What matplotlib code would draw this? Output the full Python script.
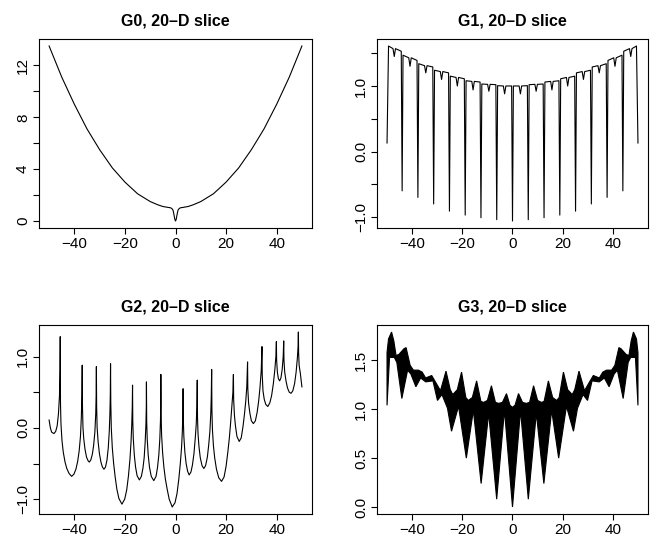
import matplotlib
matplotlib.use("Agg")
import matplotlib.pyplot as plt
import numpy as np

plt.rcParams['font.family'] = ['Liberation Sans', 'DejaVu Sans']

# ---- G0: bowl with a narrow notch at the origin
g0_x = [-50, -45, -40, -35, -30, -25, -20, -15, -10, -7, -5, -3, -2, -1.5, -1, -0.75, -0.5, -0.25, 0,
        0.25, 0.5, 0.75, 1, 1.5, 2, 3, 5, 7, 10, 15, 20, 25, 30, 35, 40, 45, 50]
g0_y = [13.5, 11.1, 9.0, 7.1, 5.5, 4.1, 3.0, 2.1, 1.5, 1.25, 1.12, 1.05, 1.02, 0.97, 0.84, 0.63, 0.37, 0.11, 0.0,
        0.11, 0.37, 0.63, 0.84, 0.97, 1.02, 1.05, 1.12, 1.25, 1.5, 2.1, 3.0, 4.1, 5.5, 7.1, 9.0, 11.1, 13.5]

# ---- G1: periodic deep dips on a rising envelope
g1_end_x = [-50, 50]
g1_end_y = [0.13, 0.13]
g1_dip_x = [-43.98, -37.70, -31.42, -25.13, -18.85, -12.57, -6.28, 0.00,
            6.28, 12.57, 18.85, 25.13, 31.42, 37.70, 43.98]
g1_dip_y = [-0.60, -0.70, -0.80, -0.91, -0.97, -1.01, -1.04, -1.06,
            -1.04, -1.01, -0.97, -0.91, -0.80, -0.70, -0.60]
g1_notch_x = [-47.12, -40.84, -34.56, -28.27, -21.99, -15.71, -9.42, -3.14,
              3.14, 9.42, 15.71, 21.99, 28.27, 34.56, 40.84, 47.12]
g1_notch_y = [1.45, 1.30, 1.20, 1.10, 1.00, 0.94, 0.92, 0.88,
              0.88, 0.92, 0.94, 1.00, 1.10, 1.20, 1.30, 1.45]
g1_rise_y = [1.61, 1.47, 1.34, 1.24, 1.15, 1.08, 1.03, 1.005,
             1.00, 1.02, 1.06, 1.11, 1.20, 1.29, 1.39, 1.53]
g1_mid_y = [1.57, 1.43, 1.31, 1.22, 1.13, 1.07, 1.025, 1.00,
            1.00, 1.025, 1.07, 1.13, 1.22, 1.31, 1.43, 1.57]
g1_fall_y = [1.53, 1.39, 1.29, 1.20, 1.11, 1.06, 1.02, 1.00,
             1.005, 1.03, 1.08, 1.15, 1.24, 1.34, 1.47, 1.61]

# ---- G2: irregular cusps
g2_x = [-50.0, -49.5, -49.0, -48.1, -47.4, -46.8, -46.3, -45.9, -45.7, -45.6,
        -45.5, -45.3, -44.9, -44.4, -43.7, -43.0, -42.1, -41.1, -40.2, -39.4, -38.7, -38.1, -37.6, -37.25, -37.05, -36.9,
        -36.8, -36.6, -36.3, -35.8, -35.2, -34.6, -34.1, -33.5, -32.9, -32.4, -31.9, -31.55, -31.4, -31.3,
        -31.2, -31.0, -30.6, -30.1, -29.5, -28.9, -28.3, -27.7, -27.1, -26.6, -26.2, -25.95, -25.8, -25.7,
        -25.6, -25.4, -25.0, -24.5, -23.9, -23.2, -22.4, -21.2, -20.1, -19.3, -18.6, -18.0, -17.6, -17.3, -17.1, -17.0,
        -16.9, -16.7, -16.3, -15.8, -15.2, -14.3, -13.5, -12.9, -12.4, -12.0, -11.7, -11.55, -11.5,
        -11.4, -11.2, -10.8, -10.3, -9.6, -8.6, -7.7, -7.1, -6.6, -6.2, -5.95, -5.85, -5.8,
        -5.7, -5.5, -5.1, -4.6, -4.0, -3.3, -2.5, -1.3, -0.2, 0.6, 1.3, 1.9, 2.4, 2.7, 2.9, 3.0,
        3.1, 3.3, 3.7, 4.2, 4.8, 5.4, 6.1, 6.7, 7.3, 7.8, 8.2, 8.45, 8.6,
        8.7, 8.9, 9.3, 9.8, 10.5, 11.2, 11.9, 12.6, 13.1, 13.6, 13.95, 14.15, 14.3,
        14.4, 14.6, 15.0, 15.5, 16.2, 17.1, 18.2, 19.2, 20.0, 20.7, 21.3, 21.8, 22.3, 22.7, 22.9,
        23.0, 23.3, 23.7, 24.3, 25.2, 26.0, 26.7, 27.3, 27.8, 28.2, 28.5,
        28.6, 28.9, 29.4, 30.0, 30.8, 31.6, 32.3, 32.9, 33.4, 33.9, 34.2,
        34.3, 34.6, 35.1, 35.7, 36.5, 37.3, 38.0, 38.7, 39.3, 39.7, 39.9,
        40.0, 40.3, 40.7, 41.2, 41.7, 42.2, 42.6, 42.8,
        42.9, 43.2, 43.7, 44.3, 45.0, 45.7, 46.4, 47.1, 47.7, 48.2, 48.5, 48.6,
        48.7, 48.9, 49.4, 50.0]
g2_y = [0.11, 0.00, -0.06, -0.08, -0.05, 0.03, 0.20, 0.45, 0.80, 1.28,
        0.35, 0.05, -0.18, -0.34, -0.48, -0.57, -0.64, -0.68, -0.65, -0.58, -0.47, -0.32, -0.12, 0.15, 0.45, 0.88,
        0.30, 0.00, -0.15, -0.30, -0.41, -0.46, -0.48, -0.45, -0.37, -0.25, -0.06, 0.20, 0.45, 0.86,
        0.30, 0.00, -0.20, -0.36, -0.48, -0.55, -0.58, -0.55, -0.45, -0.28, -0.05, 0.20, 0.45, 0.90,
        0.35, 0.00, -0.28, -0.49, -0.68, -0.86, -0.99, -1.07, -1.00, -0.87, -0.67, -0.43, -0.20, 0.05, 0.30, 0.60,
        0.10, -0.15, -0.38, -0.55, -0.67, -0.73, -0.68, -0.57, -0.42, -0.20, 0.05, 0.30, 0.645,
        0.10, -0.15, -0.38, -0.55, -0.68, -0.74, -0.68, -0.55, -0.38, -0.15, 0.10, 0.35, 0.75,
        0.20, -0.10, -0.35, -0.55, -0.72, -0.86, -1.00, -1.11, -1.05, -0.92, -0.72, -0.50, -0.27, -0.05, 0.20, 0.55,
        0.10, -0.12, -0.34, -0.50, -0.61, -0.66, -0.62, -0.52, -0.36, -0.15, 0.05, 0.30, 0.67,
        0.15, -0.08, -0.27, -0.42, -0.53, -0.57, -0.53, -0.41, -0.25, -0.05, 0.20, 0.45, 0.82,
        0.25, -0.02, -0.25, -0.42, -0.58, -0.70, -0.75, -0.69, -0.54, -0.34, -0.14, 0.07, 0.30, 0.50, 0.75,
        0.40, 0.18, 0.03, -0.12, -0.19, -0.14, 0.02, 0.20, 0.38, 0.58, 0.925,
        0.55, 0.35, 0.21, 0.10, 0.06, 0.10, 0.22, 0.38, 0.56, 0.80, 1.14,
        0.75, 0.52, 0.40, 0.33, 0.30, 0.35, 0.45, 0.62, 0.82, 1.00, 1.21,
        0.95, 0.78, 0.69, 0.66, 0.70, 0.82, 1.00, 1.22,
        0.95, 0.78, 0.66, 0.56, 0.50, 0.485, 0.52, 0.62, 0.78, 0.98, 1.15, 1.345,
        1.05, 0.88, 0.76, 0.575]

# ---- G3: dense oscillation, drawn as its envelope band
g3_up_x = [-50.0, -49.4, -48.2, -47.3, -46.4, -45.3, -43.2, -42.4, -40.8, -39.5, -37.5, -36.0,
           -34.6, -32.2, -30.5, -28.7, -26.5, -24.8, -23.8, -22.0, -20.3, -18.6, -17.6, -16.0,
           -14.3, -12.6, -11.5, -10.0, -8.4, -6.8, -5.5, -4.0, -2.4, -1.0, 0.0,
           1.0, 2.4, 4.0, 5.5, 6.8, 8.4, 10.0, 11.5, 12.6, 14.3, 16.0, 17.6, 18.6, 20.3,
           22.0, 23.8, 24.8, 26.5, 28.7, 30.5, 32.2, 34.6, 36.0, 37.5, 39.5, 40.8, 42.4,
           43.2, 45.3, 46.4, 47.3, 48.2, 49.4, 50.0]
g3_up_y = [1.58, 1.72, 1.79, 1.70, 1.55, 1.56, 1.62, 1.63, 1.45, 1.40, 1.40, 1.38,
           1.32, 1.345, 1.27, 1.19, 1.39, 1.20, 1.15, 1.20, 1.38, 1.12, 1.09, 1.12,
           1.29, 1.08, 1.07, 1.09, 1.24, 1.07, 1.06, 1.07, 1.16, 1.04, 1.02,
           1.04, 1.16, 1.07, 1.06, 1.07, 1.24, 1.09, 1.07, 1.08, 1.29, 1.12, 1.09, 1.12, 1.38,
           1.20, 1.15, 1.20, 1.39, 1.19, 1.27, 1.345, 1.32, 1.38, 1.40, 1.40, 1.45, 1.63,
           1.62, 1.56, 1.55, 1.70, 1.79, 1.72, 1.58]
g3_lo_x = [-50.0, -49.0, -47.1, -46.1, -44.1, -41.8, -40.5, -38.5, -36.6, -34.6, -31.7, -29.9,
           -28.1, -25.9, -24.3, -21.5, -18.4, -15.6, -12.5, -9.5, -6.3, -3.2, 0.0,
           3.2, 6.3, 9.5, 12.5, 15.6, 18.4, 21.5, 24.3, 25.9, 28.1, 29.9, 31.7, 34.6,
           36.6, 38.5, 40.5, 41.8, 44.1, 46.1, 47.1, 49.0, 50.0]
g3_lo_y = [1.04, 1.53, 1.53, 1.48, 1.11, 1.40, 1.36, 1.23, 1.32, 1.28, 1.29, 1.09,
           1.15, 1.01, 0.775, 1.03, 0.50, 0.99, 0.24, 0.96, 0.08, 0.99, 0.0,
           0.99, 0.08, 0.96, 0.24, 0.99, 0.50, 1.03, 0.775, 1.01, 1.15, 1.09, 1.29, 1.28,
           1.32, 1.23, 1.36, 1.40, 1.11, 1.48, 1.53, 1.53, 1.04]

x_ticks = [-40, -20, 0, 20, 40]


def build_g1():
    xs = [g1_end_x[0], g1_end_x[0] + 0.6]
    ys = [g1_end_y[0], g1_rise_y[0]]
    n = len(g1_notch_x)
    for k in range(n):
        if k > 0:
            xs.append(g1_dip_x[k - 1] + 0.35)
            ys.append(g1_rise_y[k])
        xs += [g1_notch_x[k] - 0.5, g1_notch_x[k], g1_notch_x[k] + 0.5]
        ys += [g1_mid_y[k], g1_notch_y[k], g1_mid_y[k]]
        if k < n - 1:
            xs += [g1_dip_x[k] - 0.35, g1_dip_x[k]]
            ys += [g1_fall_y[k], g1_dip_y[k]]
    xs += [g1_end_x[1] - 0.6, g1_end_x[1]]
    ys += [g1_fall_y[-1], g1_end_y[1]]
    return xs, ys


def style_axes(ax, title, yticks, ylabels):
    ax.set_title(title, fontsize=11.5, fontweight='bold', pad=10)
    ax.margins(x=0.04, y=0.04)
    ax.set_xticks(x_ticks)
    ax.set_yticks(yticks, ylabels)
    ax.tick_params(direction='out', length=4.5, width=0.8, labelsize=11, pad=2)
    for lab in ax.get_yticklabels():
        lab.set_rotation(90)
        lab.set_va('center')
    for sp in ax.spines.values():
        sp.set_linewidth(0.8)


fig = plt.figure(figsize=(6.51, 5.38), dpi=100)
ax0 = fig.add_axes([0.0599, 0.5762, 0.4194, 0.3513])
ax1 = fig.add_axes([0.5791, 0.5762, 0.4163, 0.3513])
ax2 = fig.add_axes([0.0599, 0.0446, 0.4194, 0.3513])
ax3 = fig.add_axes([0.5791, 0.0446, 0.4163, 0.3513])

lw = 0.8
ax0.plot(g0_x, g0_y, color='black', lw=lw)
style_axes(ax0, 'G0, 20\u2013D slice', [0, 2, 4, 6, 8, 10, 12], ['0', '', '4', '', '8', '', '12'])

g1_x, g1_y = build_g1()
ax1.plot(g1_x, g1_y, color='black', lw=lw)
style_axes(ax1, 'G1, 20\u2013D slice', [-1.0, -0.5, 0.0, 0.5, 1.0, 1.5],
           ['\u22121.0', '', '0.0', '', '1.0', ''])

ax2.plot(g2_x, g2_y, color='black', lw=lw)
style_axes(ax2, 'G2, 20\u2013D slice', [-1.0, -0.5, 0.0, 0.5, 1.0],
           ['\u22121.0', '', '0.0', '', '1.0'])

band_x = np.concatenate([g3_up_x, g3_lo_x[::-1]])
band_y = np.concatenate([g3_up_y, g3_lo_y[::-1]])
ax3.fill(band_x, band_y, color='black', lw=lw)
style_axes(ax3, 'G3, 20\u2013D slice', [0.0, 0.5, 1.0, 1.5], ['0.0', '0.5', '1.0', '1.5'])

fig.savefig('out.png', dpi=100)
